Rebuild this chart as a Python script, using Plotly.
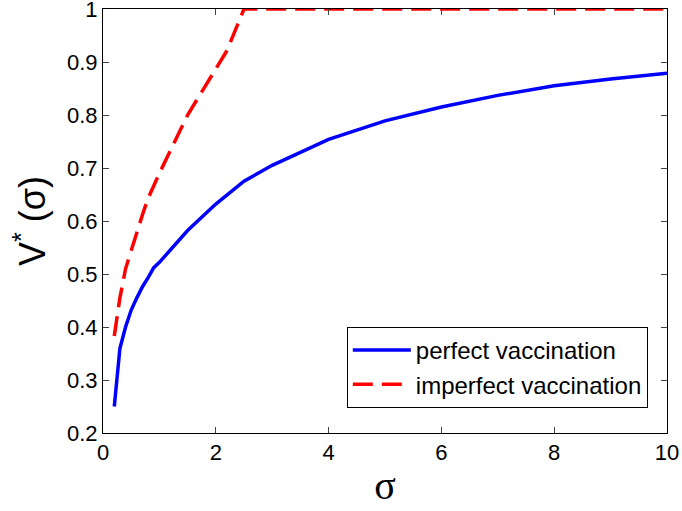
import plotly.graph_objects as go

blue_x = [0.2, 0.3, 0.4, 0.5, 0.6, 0.7, 0.8, 0.9, 1.0, 1.5, 2, 2.5, 3, 4, 5, 6, 7, 8, 9, 10]
blue_y = [0.25, 0.36, 0.40, 0.432, 0.455, 0.476, 0.493, 0.512, 0.522, 0.582, 0.632, 0.675,
          0.705, 0.754, 0.789, 0.815, 0.837, 0.855, 0.868, 0.879]

red_x = [0.2, 0.3, 0.4, 0.5, 0.6, 0.7, 0.8, 0.9, 1.0, 1.5, 2.0, 2.2, 2.5, 3, 4, 5, 6, 7, 8, 9, 10]
red_y = [0.383, 0.455, 0.51, 0.545, 0.58, 0.612, 0.643, 0.667, 0.69, 0.80, 0.886, 0.922, 1.0,
         1.0, 1.0, 1.0, 1.0, 1.0, 1.0, 1.0, 1.0]

x_ticks = [0, 2, 4, 6, 8, 10]
y_ticks = [0.2, 0.3, 0.4, 0.5, 0.6, 0.7, 0.8, 0.9, 1.0]
y_tick_text = ["0.2", "0.3", "0.4", "0.5", "0.6", "0.7", "0.8", "0.9", "1"]

fig = go.Figure()
fig.add_trace(go.Scatter(x=blue_x, y=blue_y, mode="lines", name="perfect vaccination",
                         line=dict(color="#0000ff", width=3.5), cliponaxis=False))
fig.add_trace(go.Scatter(x=red_x, y=red_y, mode="lines", name="imperfect vaccination",
                         line=dict(color="#ff0000", width=3.5, dash="20px,9px"), cliponaxis=False))

font_family = "Liberation Sans, Arial, sans-serif"
fig.update_layout(
    width=682, height=511,
    margin=dict(l=103, r=15, t=9, b=78),
    paper_bgcolor="white", plot_bgcolor="white",
    font=dict(family=font_family, size=22, color="black"),
    showlegend=True,
    legend=dict(x=0.966, y=0.059, xanchor="right", yanchor="bottom",
                bordercolor="black", borderwidth=1, bgcolor="white",
                font=dict(size=24), tracegroupgap=0, itemwidth=58),
    xaxis=dict(range=[0, 10], tickvals=x_ticks, ticks="inside", ticklen=6,
               showline=True, linecolor="black", linewidth=1, mirror="ticks",
               showgrid=False, zeroline=False, automargin=False,
               ticklabeloverflow="allow",
               title=dict(text="σ", font=dict(family="Liberation Serif, serif", size=40),
                          standoff=6)),
    yaxis=dict(range=[0.2, 1.0], tickvals=y_ticks, ticktext=y_tick_text,
               ticks="inside", ticklen=6,
               showline=True, linecolor="black", linewidth=1, mirror="ticks",
               showgrid=False, zeroline=False, automargin=False,
               ticklabeloverflow="allow",
               title=dict(text="V<sup>*</sup> (σ)", font=dict(size=36), standoff=10)),
)

fig.write_html("out.html")
